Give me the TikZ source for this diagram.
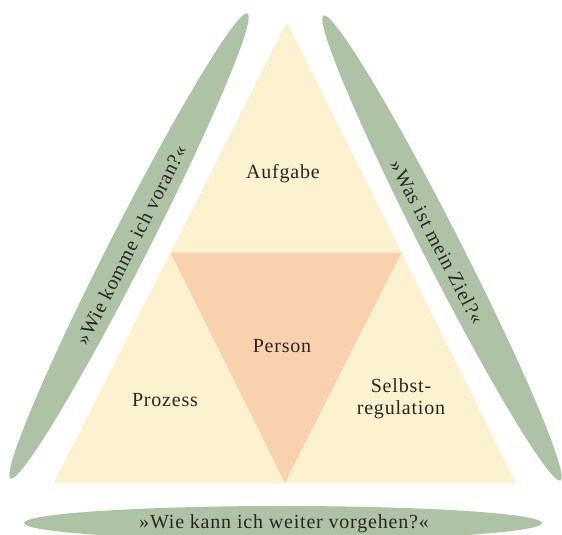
\documentclass[tikz,border=0pt]{standalone}
\usepackage{fontspec}
\setmainfont[LetterSpace=4]{Liberation Serif}
\usetikzlibrary{calc}
\definecolor{leaf}{HTML}{AEC3A6}
\definecolor{pale}{HTML}{FDF2D0}
\definecolor{peach}{HTML}{F8D2AF}
\definecolor{ink}{HTML}{2A2522}
\begin{document}
\begin{tikzpicture}[x=1pt,y=-1pt,
  lbl/.style={text=ink,font=\fontsize{20}{22}\selectfont,align=center,inner sep=0pt},
  leafshape/.style={fill=leaf,draw=none}]
\useasboundingbox (0,0) rectangle (562,535);
\begin{scope}
\clip (0,0) rectangle (562,535);
% green leaves
\fill[leaf,rotate around={63:(129,246)}] (129,246) ellipse [x radius=261,y radius=19];
\fill[leaf,rotate around={-63:(442,248)}] (442,248) ellipse [x radius=261,y radius=19];
\fill[leaf] (283,523) ellipse [x radius=259,y radius=17];
\end{scope}
% triangle
\coordinate (T) at (287,22);
\coordinate (L) at (54,483);
\coordinate (R) at (516,483);
\fill[pale] (T) -- (L) -- (R) -- cycle;
\fill[peach] ($(T)!0.5!(L)$) -- ($(T)!0.5!(R)$) -- ($(L)!0.5!(R)$) -- cycle;
% labels
\node[lbl] (aufgabe) at (283,174) {Aufgabe};
\node[lbl] (person) at (282,346) {Person};
\node[lbl] (prozess) at (165,400) {Prozess};
\node[lbl] (selbst) at (401,399) {Selbst-\\regulation};
\node[lbl,rotate=63] (q1) at (131,245) {»Wie komme ich voran?«};
\node[lbl,rotate=-62.5] (q2) at (437,242) {»Was ist mein Ziel?«};
\node[lbl] (q3) at (284,524) {»Wie kann ich weiter vorgehen?«};
\end{tikzpicture}
\end{document}
